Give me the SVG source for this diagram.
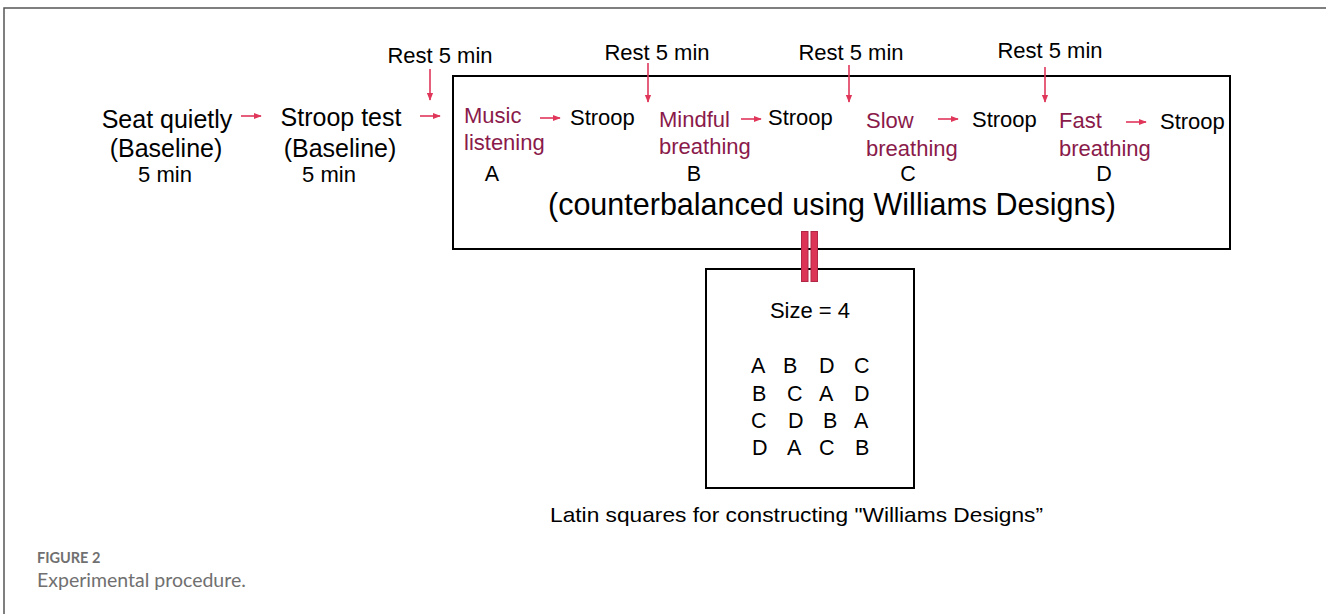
<svg xmlns="http://www.w3.org/2000/svg" width="1326" height="614" viewBox="0 0 1326 614">
<style>
  text { font-family: "Liberation Sans", Arial, sans-serif; fill: #000; }
  .big { font-size: 25px; }
  .mid { font-size: 22px; }
  .act { font-size: 22px; fill: #8a1a4a; }
  .mat { font-size: 21.5px; }
  .box { fill: #fff; stroke: #000; stroke-width: 2; }
  .arr { stroke: #e0365a; stroke-width: 1.6; fill: none; marker-end: url(#ah); }
  .cap1 { font-family: Lato, "Open Sans", sans-serif; font-size: 14.5px; font-weight: bold; fill: #707070; }
  .cap2 { font-family: Lato, "Open Sans", sans-serif; font-size: 19.5px; fill: #707070; }
</style>
<defs>
  <marker id="ah" viewBox="0 0 10 10" refX="9" refY="5" markerWidth="8" markerHeight="8" markerUnits="userSpaceOnUse" orient="auto">
    <path d="M0,1 L10,5 L0,9 z" fill="#e0365a"/>
  </marker>
</defs>
<rect width="1326" height="614" fill="#fff"/>
<g id="frame">
  <path d="M4,614 V8 H1326" fill="none" stroke="#555" stroke-width="1.5"/>
</g>

<g id="seat">
  <text class="big" x="167" y="128" text-anchor="middle">Seat quietly</text>
  <text class="big" x="166" y="157" text-anchor="middle">(Baseline)</text>
  <text class="mid" x="165" y="182" text-anchor="middle">5 min</text>
</g>
<g id="stroop-baseline">
  <text class="big" x="341" y="126" text-anchor="middle">Stroop test</text>
  <text class="big" x="340" y="157" text-anchor="middle">(Baseline)</text>
  <text class="mid" x="329" y="182" text-anchor="middle">5 min</text>
</g>

<g id="main-box">
  <rect class="box" x="453" y="76" width="777" height="173"/>
  <text class="act" x="464" y="123">Music</text>
  <text class="act" x="464" y="150">listening</text>
  <text class="mid" x="570" y="125">Stroop</text>
  <text class="act" x="659" y="127">Mindful</text>
  <text class="act" x="659" y="154">breathing</text>
  <text class="mid" x="768" y="125">Stroop</text>
  <text class="act" x="866" y="128">Slow</text>
  <text class="act" x="866" y="156">breathing</text>
  <text class="mid" x="972" y="127">Stroop</text>
  <text class="act" x="1059" y="128">Fast</text>
  <text class="act" x="1059" y="156">breathing</text>
  <text class="mid" x="1160" y="129">Stroop</text>
  <text class="mat" x="492" y="181" text-anchor="middle">A</text>
  <text class="mat" x="694" y="181" text-anchor="middle">B</text>
  <text class="mat" x="908" y="181" text-anchor="middle">C</text>
  <text class="mat" x="1104" y="181" text-anchor="middle">D</text>
  <text x="548" y="215" style="font-size:30.5px">(counterbalanced using Williams Designs)</text>
</g>

<g id="rest-labels">
  <text class="mid" x="440" y="63" text-anchor="middle">Rest 5 min</text>
  <text class="mid" x="657" y="60" text-anchor="middle">Rest 5 min</text>
  <text class="mid" x="851" y="60" text-anchor="middle">Rest 5 min</text>
  <text class="mid" x="1050" y="58" text-anchor="middle">Rest 5 min</text>
</g>

<g id="latin-box">
  <rect class="box" x="706" y="269" width="208" height="219"/>
  <text class="mid" x="810" y="318" text-anchor="middle">Size = 4</text>
  <text class="mat" x="751" y="373">A</text><text class="mat" x="783" y="373">B</text><text class="mat" x="819" y="373">D</text><text class="mat" x="854" y="373">C</text>
  <text class="mat" x="752" y="401">B</text><text class="mat" x="787" y="401">C</text><text class="mat" x="819" y="401">A</text><text class="mat" x="854" y="401">D</text>
  <text class="mat" x="751" y="428">C</text><text class="mat" x="788" y="428">D</text><text class="mat" x="823" y="428">B</text><text class="mat" x="854" y="428">A</text>
  <text class="mat" x="752" y="455">D</text><text class="mat" x="787" y="455">A</text><text class="mat" x="819" y="455">C</text><text class="mat" x="855" y="455">B</text>
</g>

<g id="connectors">
  <line class="arr" x1="241" y1="116" x2="261" y2="116"/>
  <line class="arr" x1="420" y1="116" x2="440" y2="116"/>
  <line class="arr" x1="540" y1="118" x2="560" y2="118"/>
  <line class="arr" x1="741" y1="119" x2="761" y2="119"/>
  <line class="arr" x1="938" y1="119" x2="958" y2="119"/>
  <line class="arr" x1="1126" y1="122" x2="1146" y2="122"/>
  <line class="arr" x1="430" y1="69" x2="430" y2="100"/>
  <line class="arr" x1="648" y1="63" x2="648" y2="102"/>
  <line class="arr" x1="849" y1="65" x2="849" y2="102"/>
  <line class="arr" x1="1045" y1="67" x2="1045" y2="102"/>
  <rect x="801.5" y="231.5" width="6.5" height="50" fill="#dc3457" stroke="#b02845" stroke-width="1"/>
  <rect x="811" y="231.5" width="6.5" height="50" fill="#dc3457" stroke="#b02845" stroke-width="1"/>
</g>

<text x="550" y="522" textLength="493" lengthAdjust="spacingAndGlyphs" style="font-size:21px">Latin squares for constructing "Williams Designs”</text>

<g id="caption">
  <text class="cap1" x="37" y="563">FIGURE 2</text>
  <text class="cap2" x="37" y="587">Experimental procedure.</text>
</g>
</svg>
